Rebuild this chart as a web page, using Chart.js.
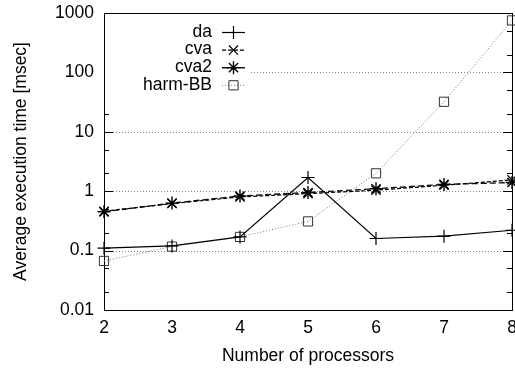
<!DOCTYPE html>
<html>
<head>
<meta charset="utf-8">
<script src="https://cdn.jsdelivr.net/npm/chart.js@4/dist/chart.umd.min.js"></script>
<style>
  html, body { margin: 0; padding: 0; background: #fff; }
  #wrap { width: 515px; height: 372px; }
</style>
</head>
<body>
<div id="wrap"><canvas id="timeChart" width="515" height="372"></canvas></div>
<script>
// Data
const processors = [2, 3, 4, 5, 6, 7, 8];
const daTimes = [0.11, 0.12, 0.17, 1.7, 0.16, 0.175, 0.22];
const cvaTimes = [0.46, 0.62, 0.80, 0.91, 1.04, 1.26, 1.55];
const cva2Times = [0.45, 0.63, 0.83, 0.95, 1.10, 1.30, 1.40];
const harmTimes = [0.067, 0.117, 0.17, 0.31, 2.0, 32, 750];

// Axis ticks
const xTicks = [2, 3, 4, 5, 6, 7, 8];
const yMajorTicks = [0.01, 0.1, 1, 10, 100, 1000];
const yMinorTicks = [0.02, 0.05, 0.2, 0.5, 2, 5, 20, 50, 200, 500];
const yTickLabels = ['0.01', '0.1', '1', '10', '100', '1000'];

const FONT = "'Liberation Sans', Arial, sans-serif";
Chart.defaults.font.family = FONT;
Chart.defaults.color = '#000';

function toPoints(values) {
    return processors.map((p, i) => ({ x: p, y: values[i] }));
}

const seriesDefs = [
    { label: 'da', data: daTimes, dash: [], color: '#000', mark: '#000', style: 'cross', width: 1.2 },
    { label: 'cva', data: cvaTimes, dash: [4, 2], color: '#000', mark: '#000', style: 'crossRot', width: 1.2 },
    { label: 'cva2', data: cva2Times, dash: [6, 3], color: '#111', mark: '#000', style: 'star', width: 1.4 },
    { label: 'harm-BB', data: harmTimes, dash: [1, 2], color: '#777', mark: '#333', style: 'rect', width: 1 }
];

// Frame, dotted grid and inward ticks in gnuplot style
const framePlugin = {
    id: 'frame',
    beforeDatasetsDraw(chart) {
        const { ctx, chartArea: a, scales } = chart;
        const y = scales.y;
        ctx.save();
        ctx.strokeStyle = '#888';
        ctx.lineWidth = 1;
        ctx.setLineDash([1, 2]);
        yMajorTicks.slice(1, -1).forEach(v => {
            const py = Math.round(y.getPixelForValue(v)) + 0.5;
            ctx.beginPath();
            ctx.moveTo(a.left, py);
            ctx.lineTo(a.right, py);
            ctx.stroke();
        });
        ctx.setLineDash([]);
        ctx.strokeStyle = '#000';
        const tick = (v, len) => {
            const py = Math.round(y.getPixelForValue(v)) + 0.5;
            ctx.beginPath();
            ctx.moveTo(a.left, py);
            ctx.lineTo(a.left + len, py);
            ctx.moveTo(a.right, py);
            ctx.lineTo(a.right - len, py);
            ctx.stroke();
        };
        yMajorTicks.forEach(v => tick(v, 9));
        yMinorTicks.forEach(v => tick(v, 5));
        ctx.strokeRect(Math.round(a.left) + 0.5, Math.round(a.top) + 0.5,
            Math.round(a.right - a.left), Math.round(a.bottom - a.top));
        ctx.restore();
    },
    afterDraw(chart) {
        const { ctx, chartArea: a } = chart;
        ctx.save();
        ctx.fillStyle = '#fff';
        ctx.fillRect(a.left + 1, a.top + 1, 146, 80);
        ctx.font = '17.5px ' + FONT;
        ctx.textAlign = 'right';
        ctx.textBaseline = 'middle';
        seriesDefs.forEach((s, i) => {
            const rowY = a.top + 19 + i * 17.6;
            ctx.fillStyle = '#000';
            ctx.fillText(s.label, a.left + 108, rowY);
            ctx.strokeStyle = s.color;
            ctx.lineWidth = s.width;
            ctx.setLineDash(s.dash);
            ctx.beginPath();
            ctx.moveTo(a.left + 118, rowY + 0.5);
            ctx.lineTo(a.left + 141, rowY + 0.5);
            ctx.stroke();
            ctx.setLineDash([]);
            ctx.strokeStyle = s.mark;
            ctx.fillStyle = 'rgba(0,0,0,0)';
            Chart.helpers.drawPoint(ctx, {
                pointStyle: s.style, radius: 6.5, rotation: 0, borderWidth: s.width
            }, a.left + 129.5, rowY + 0.5);
        });
        ctx.restore();
    }
};

const chart = new Chart(document.getElementById('timeChart'), {
    type: 'line',
    data: {
        datasets: seriesDefs.map(s => ({
            label: s.label,
            data: toPoints(s.data),
            borderColor: s.color,
            borderWidth: s.width,
            borderDash: s.dash,
            pointStyle: s.style,
            pointRadius: 6.5,
            pointBorderColor: s.mark,
            pointBackgroundColor: 'rgba(0,0,0,0)',
            pointBorderWidth: s.width,
            tension: 0,
            fill: false,
            clip: false
        }))
    },
    options: {
        responsive: false,
        animation: false,
        layout: {
            autoPadding: false,
            padding: { top: 13, right: 3, left: 0, bottom: 0 }
        },
        plugins: {
            legend: { display: false },
            tooltip: { enabled: false }
        },
        scales: {
            x: {
                type: 'linear',
                min: 2,
                max: 8,
                afterBuildTicks: scale => {
                    scale.ticks = xTicks.map(v => ({ value: v }));
                },
                afterFit: scale => {
                    scale.height = 62;
                    scale.paddingLeft = 0;
                    scale.paddingRight = 0;
                },
                grid: { display: false, drawTicks: false },
                border: { display: false },
                ticks: {
                    padding: 8,
                    font: { size: 17.5 },
                    maxRotation: 0,
                    callback: v => String(v)
                },
                title: {
                    display: true,
                    text: 'Number of processors',
                    font: { size: 17.5 },
                    padding: { top: 0, bottom: 5 }
                }
            },
            y: {
                type: 'logarithmic',
                min: 0.01,
                max: 1000,
                afterBuildTicks: scale => {
                    scale.ticks = yMajorTicks.map(v => ({ value: v }));
                },
                afterFit: scale => {
                    scale.width = 104;
                    scale.paddingTop = 0;
                    scale.paddingBottom = 0;
                },
                grid: { display: false, drawTicks: false },
                border: { display: false },
                ticks: {
                    padding: 10,
                    font: { size: 17.5 },
                    callback: (v, i) => yTickLabels[i]
                },
                title: {
                    display: true,
                    text: 'Average execution time [msec]',
                    font: { size: 17.5 },
                    padding: { top: 11, bottom: 0 }
                }
            }
        }
    },
    plugins: [framePlugin]
});
</script>
</body>
</html>
